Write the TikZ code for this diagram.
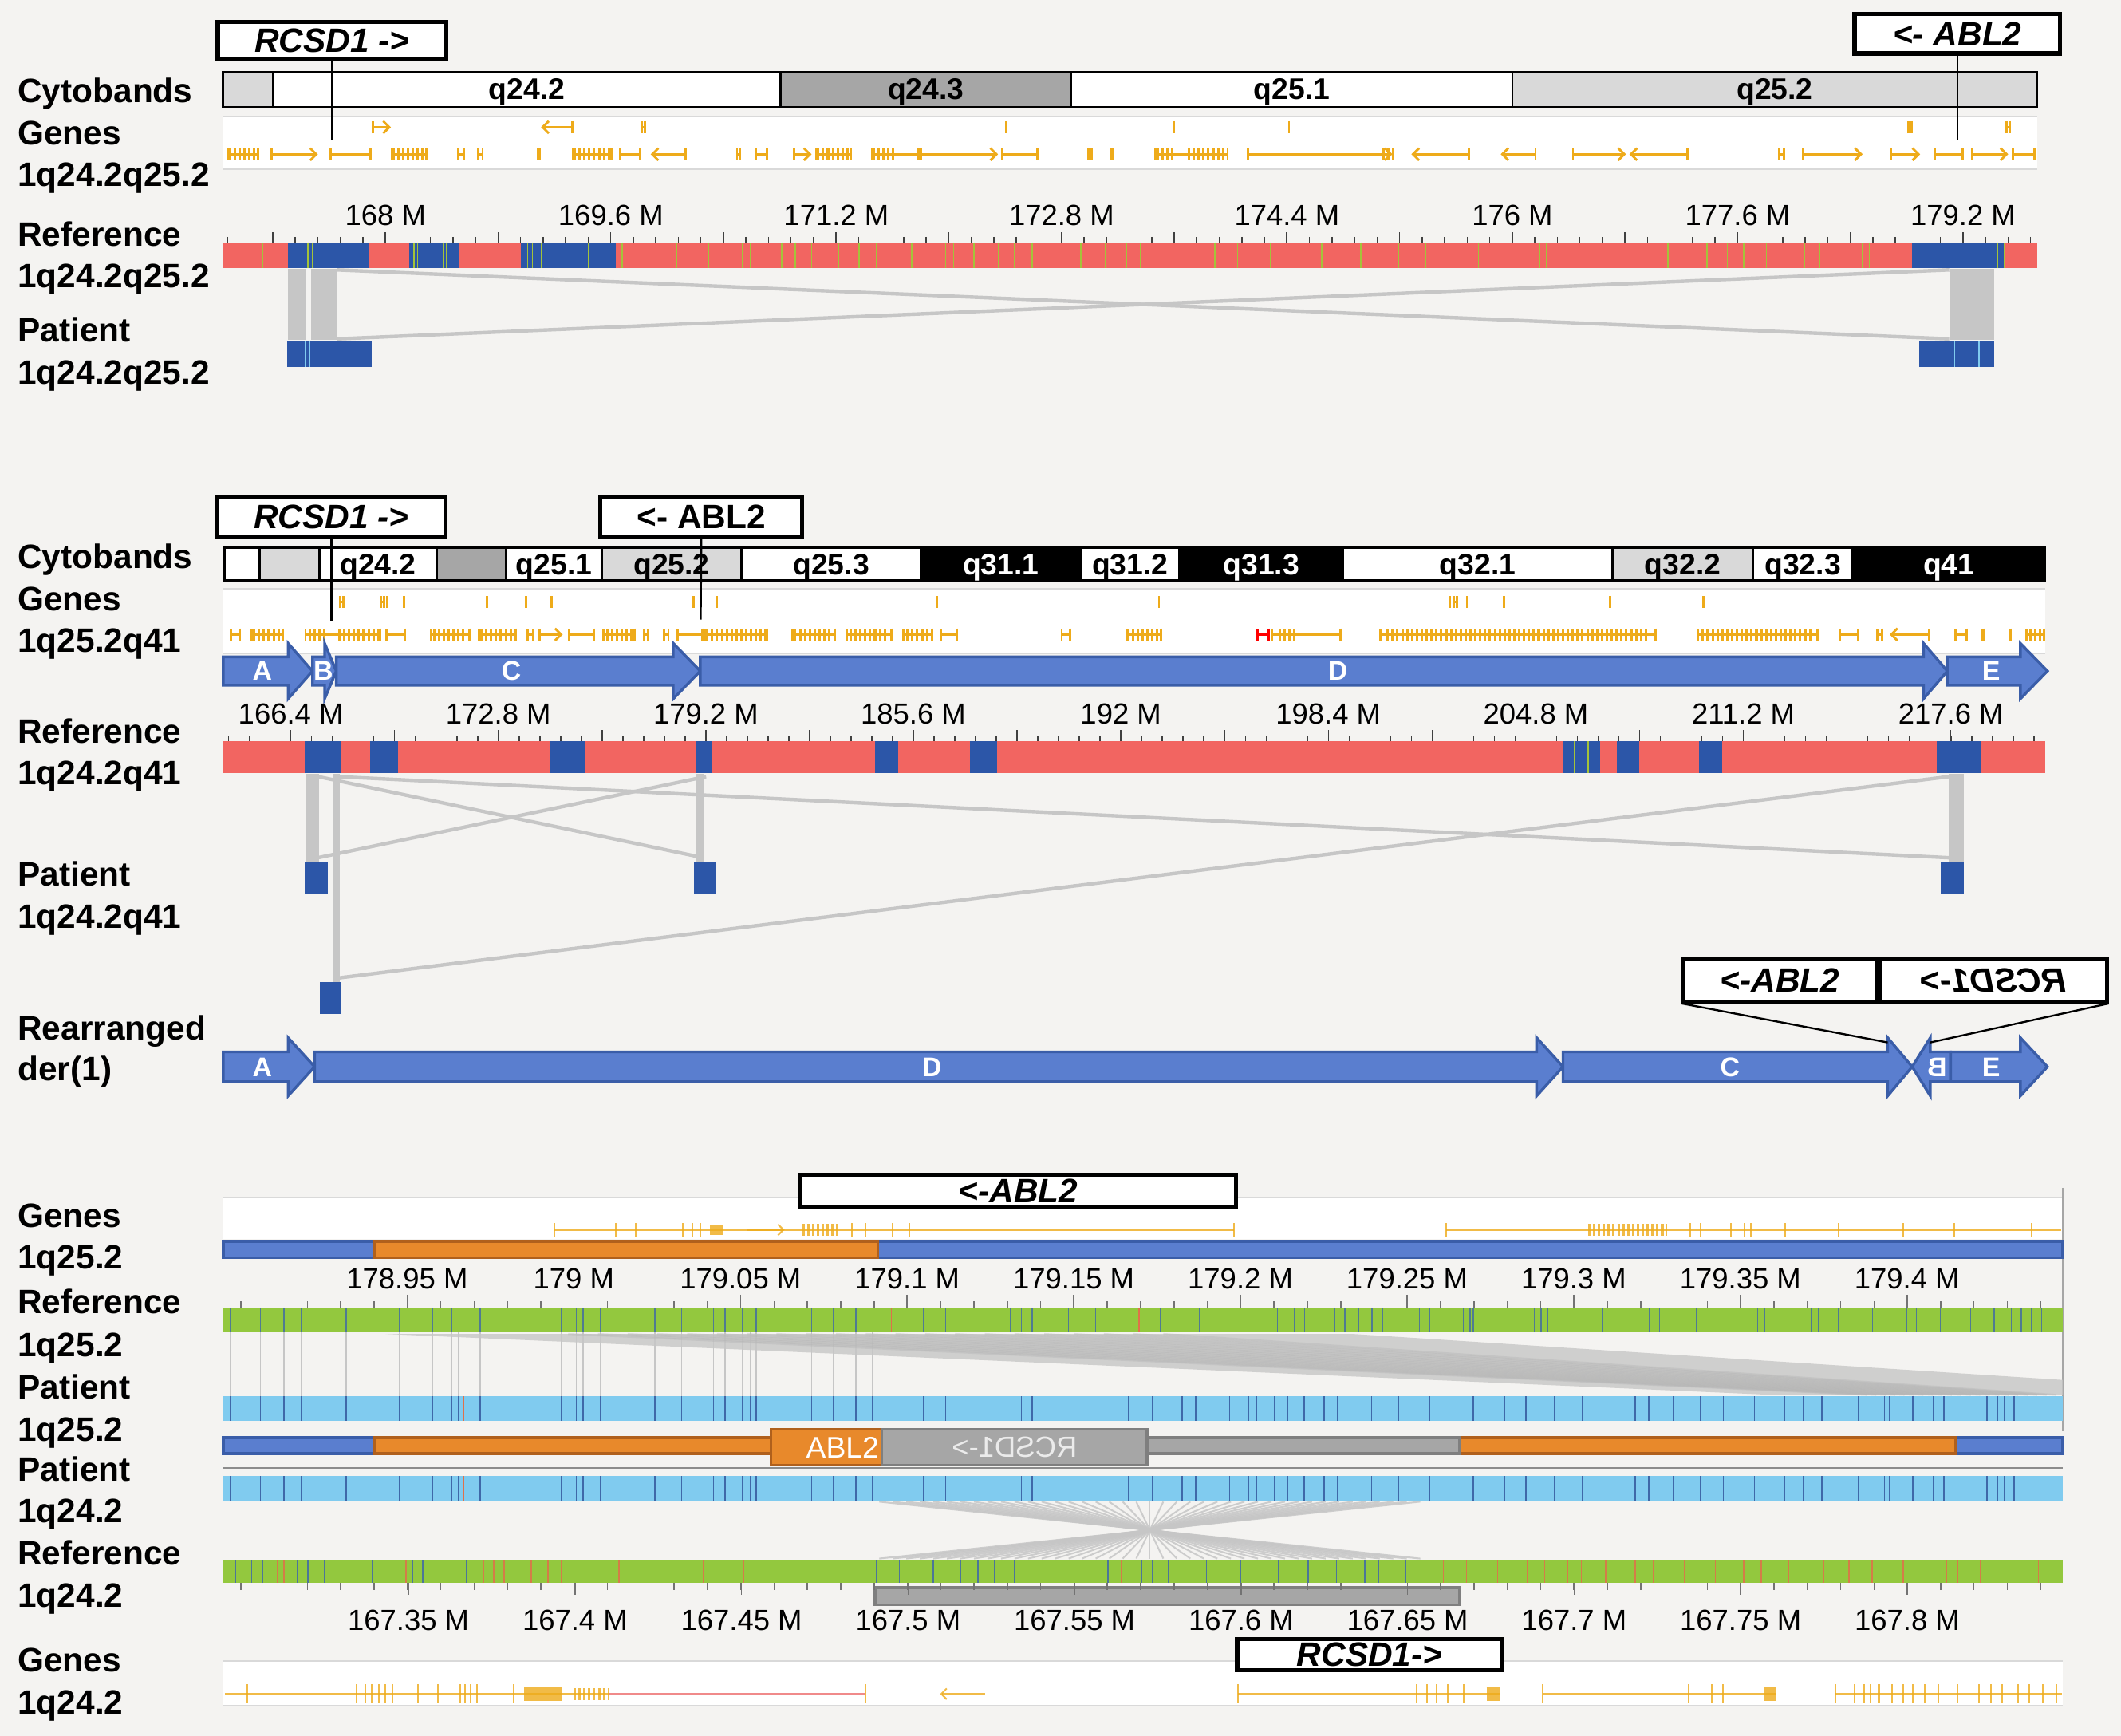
\documentclass[tikz,border=0pt]{standalone}
\usepackage{fontspec}
\usepackage{graphicx}
\setmainfont{Liberation Sans}
\usetikzlibrary{arrows.meta}

\definecolor{bgpage}{HTML}{F4F3F1}
\definecolor{cytolight}{HTML}{D9D9D9}
\definecolor{cytodark}{HTML}{A6A6A6}
\definecolor{genegold}{HTML}{EEAB1A}
\definecolor{genepink}{HTML}{F08A8A}
\definecolor{refred}{HTML}{F26561}
\definecolor{hitblue}{HTML}{2C56A8}
\definecolor{snpgreen}{HTML}{A3C33A}
\definecolor{linkgray}{HTML}{C6C6C6}
\definecolor{segfill}{HTML}{5A7ECF}
\definecolor{segedge}{HTML}{3A5DA8}
\definecolor{contigorange}{HTML}{E8892B}
\definecolor{contigedge}{HTML}{B0601C}
\definecolor{mapgreen}{HTML}{93C83E}
\definecolor{mapblue}{HTML}{80CBEF}
\definecolor{markblue}{HTML}{3F68A8}
\definecolor{markred}{HTML}{E0704A}
\definecolor{greybox}{HTML}{A6A6A6}
\definecolor{greyedge}{HTML}{7F7F7F}

\tikzset{
  rowlabel/.style={anchor=base west,inner sep=0pt,font=\bfseries\fontsize{25}{25}\selectfont},
  axislabel/.style={inner sep=0pt,font=\fontsize{21.5}{21.5}\selectfont},
  bandlabel/.style={anchor=base,inner sep=0pt,font=\bfseries\fontsize{22}{22}\selectfont},
  genebox/.style={draw=black,line width=3pt,fill=white,inner sep=0pt,font=\bfseries\itshape\fontsize{25}{25}\selectfont},
  cyto/.style={draw=black,line width=1.6pt},
  trackedge/.style={draw=black!15,line width=1.2pt},
  gene/.style={draw=genegold,line width=1.7pt},
  fgene/.style={draw=genegold,line width=1.2pt,opacity=0.8},
  hgene/.style={gene,{Bar[width=9pt]}-{Bar[width=9pt]}},
  rgene/.style={gene,{Bar[width=9pt]}-{Straight Barb[length=4.5pt,width=9pt]}},
  lgene/.style={gene,{Straight Barb[length=4.5pt,width=9pt]}-{Bar[width=9pt]}},
  exons/.style={draw=genegold,line width=9pt,dash pattern=on 1.8pt off 1.8pt},
  axistick/.style={draw=black!75,line width=0.9pt},
  link/.style={draw=linkgray,line width=2.6pt},
  segarrow/.style={fill=segfill,draw=segedge,line width=2pt},
  seglabel/.style={text=white,inner sep=0pt,font=\bfseries\fontsize{20}{20}\selectfont},
  pointer/.style={draw=black,line width=1.4pt},
  contig/.style={fill=segfill,draw=segedge,line width=2pt},
  contigabl/.style={fill=contigorange,draw=contigedge,line width=2pt},
  contiggrey/.style={fill=greybox,draw=greyedge,line width=2pt}
}

\newcommand{\patientmarks}{170,192.6,210,222.6,256,295,320,334,339,355,377.6,415,426,431,444,465,484,504,527.6,536,549,555,559,581.7,600,616,632.7,645,669,682.7,686,699,755,763,794,834,852,874,884,909,923,929,942,952,964,979,989,1014,1034,1057,1089,1112,1128,1149,1170,1209,1219,1237,1257,1274,1297,1319,1333,1347,1374,1393,1397,1414,1429,1437,1469,1477,1482,1489}

\begin{document}
\begin{tikzpicture}[x=1pt,y=-1pt]
\useasboundingbox (0,0) rectangle (1568,1283);
\fill[bgpage] (0,0) rectangle (1568,1283);

% row labels down the left side
\foreach \ty/\txt [count=\i] in {75.5/Cytobands,107/Genes,137.6/1q24.2q25.2,181.8/Reference,212.3/1q24.2q25.2,252.6/Patient,284/1q24.2q25.2,
  419.9/Cytobands,451.6/Genes,482.2/1q25.2q41,549.4/Reference,580/1q24.2q41,654.6/Patient,686.3/1q24.2q41,768.6/Rearranged,799/der(1),
  907.1/Genes,937.6/1q25.2,971/Reference,1002.5/1q25.2,1034/Patient,1065.4/1q25.2,1094.9/Patient,1125.3/1q24.2,1156.8/Reference,1188.2/1q24.2,1235.4/Genes,1266.8/1q24.2}
  \node[rowlabel] (row\i) at (13,\ty) {\txt};

%%%%%%%% top panel: 1q24.2q25.2
\foreach \xa/\xb/\col/\txt [count=\i] in {165/202/cytolight/,202/577/white/q24.2,577/792/cytodark/q24.3,792/1118/white/q25.1,1118/1506/cytolight/q25.2}{
  \draw[cyto,fill=\col] (\xa,53) rectangle (\xb,79);
  \node[bandlabel] (bandTop\i) at ({(\xa+\xb)/2},73.7) {\txt};
}
\fill[white] (165,86) rectangle (1506,125);
\draw[trackedge] (165,86) -- (1506,86) (165,125) -- (1506,125);
% genes
\draw[rgene] (275,94) -- (289,94);
\draw[lgene] (400,94) -- (424,94);
\foreach \a in {475.8,1412,1484.6} \draw[hgene] (\a-2,94) -- (\a+2,94);
\foreach \a in {744,867.8,952.9} \draw[gene] (\a,89.5) -- (\a,98.5);
\foreach \a/\b in {167.6/191.6,243.6/275,289/316,337.6/344,352.6/357.6,396.7/400,423/452.7,457.7/474,544/547.7,557.7/567.7,602.7/630,643.8/680,740/767.8,804/808,820/823,853.3/908.4,1314.5/1319.5,1429.5/1452,1487/1504.6}
  \draw[hgene] (\a,114) -- (\b,114);
\foreach \a/\b in {200/235,586/600,680/737.8,921.9/1029.4,1162/1202,1332/1377,1397/1419.5,1457/1484.6}
  \draw[rgene] (\a,114) -- (\b,114);
\foreach \a/\b in {481/507.7,1043.4/1087,1109.4/1136,1204.5/1248.5}
  \draw[lgene] (\a,114) -- (\b,114);
\foreach \a/\b in {169/190,290/315,424/452,604/629,645/662,855/868,878/906,1022/1030}
  \draw[exons] (\a,114) -- (\b,114);
% scale
\foreach \k in {0,...,80} \draw[axistick] (168.3+16.66*\k,175) -- ++(0,4);
\foreach \k in {0,...,15} \draw[axistick] (201.6+83.3*\k,171.6) -- ++(0,7.4);
\foreach \lab [count=\k from 0] in {168,169.6,171.2,172.8,174.4,176,177.6,179.2}
  \node[axislabel] (axTop\k) at (285+166.6*\k,159) {\lab\ M};
% reference and patient
\fill[refred] (165,179) rectangle (1506,198);
\foreach \xa/\xb in {212.6/272.6,302.6/339,385/455.5,1413.5/1482} \fill[hitblue] (\xa,179) rectangle (\xb,198);
\foreach \m in {194,227.6,231,306,308.6,327.6,330,390,393.6,400,435,460,485,500,524,549,555,578,588,600,620,635,648,674,699,705,720,738,750,763,799,817,833,843,867,882,898,915,939,977,1006,1034,1054,1093,1138,1143,1179,1199,1208,1233,1262,1277,1289,1306,1334,1345,1377,1382,1477,1482}
  \draw[snpgreen,line width=0.9pt] (\m,179) -- (\m,198);
\fill[linkgray] (212.6,199) rectangle (226,251);
\fill[linkgray] (230,199) rectangle (249,251);
\fill[linkgray] (1441,199) rectangle (1474,251);
\draw[link] (249,199.5) -- (1441,250.5);
\draw[link] (249,250.5) -- (1441,199.5);
\fill[hitblue] (212,252) rectangle (275,271);
\fill[hitblue] (1419,252) rectangle (1474,271);
\foreach \m in {226,229,1445,1463} \draw[mapblue,line width=1pt] (\m,252) -- (\m,271);
% gene boxes
\node[genebox,minimum width=169pt,minimum height=28pt] (rcsdTop) at (245.5,30) {RCSD1 ->};
\node[genebox,minimum width=152pt,minimum height=29pt] (ablTop) at (1447,25) {<- ABL2};
\coordinate (rcsdTopHit) at (245.5,104);
\coordinate (ablTopHit) at (1447,104);
\draw[pointer] (rcsdTop.south) -- (rcsdTopHit);
\draw[pointer] (ablTop.south) -- (ablTopHit);

%%%%%%%% middle panel: 1q24.2q41
\foreach \xa/\xb/\col/\txt/\tc [count=\i] in {166/192/white//black,192/236/cytolight//black,236/323/white/q24.2/black,323/374/cytodark//black,374/445/white/q25.1/black,445/548/cytolight/q25.2/black,548/681/white/q25.3/black,681/799/black/q31.1/white,799/872/white/q31.2/black,872/993/black/q31.3/white,993/1192/white/q32.1/black,1192/1296/cytolight/q32.2/black,1296/1369.5/white/q32.3/black,1369.5/1512/black/q41/white}{
  \draw[cyto,fill=\col] (\xa,405) rectangle (\xb,429);
  \node[bandlabel,text=\tc] (bandMid\i) at ({(\xa+\xb)/2},424.6) {\txt};
}
\fill[white] (165,435) rectangle (1512,483);
\draw[trackedge] (165,435) -- (1512,435) (165,483) -- (1512,483);
\foreach \a in {286,298.6,360,389,407.7,512.7,530,692.8,856.8,1071.9,1084.4,1112,1190.5,1259.5} \draw[gene] (\a,440.5) -- (\a,449.5);
\foreach \a in {252.6,282.6,1076} \draw[hgene] (\a-2,445) -- (\a+2,445);
\foreach \a/\b in {170/178,185/210,225/282,285/300,318/348,353/382,389/395,420/440,445/470,475/480,490/495,500/520,520/568,585/618,625/660,667/690,695/708,784/792,831.8/859.3,939.4/992,1019.4/1224.5,1254.5/1344.5,1359.5/1374.5,1387/1392,1444.6/1454.6,1464.6/1467,1484.6/1487,1497/1512}
  \draw[hgene] (\a,469) -- (\b,469);
\foreach \a/\b in {187/208,228/240,250/280,320/345,355/380,448/468,522/566,587/615,628/655,670/688,833/858,945/958,1025/1220,1258/1340,1500/1510}
  \draw[exons] (\a,469) -- (\b,469);
\draw[rgene] (398,469) -- (416,469);
\draw[lgene] (1397,469) -- (1427,469);
\draw[gene,draw=red,{Bar[width=9pt]}-{Bar[width=9pt]}] (929,469) -- (939,469);
% segments A to E
\foreach \xa/\xh/\xt in {165/213/231,231/240/248.6,248.6/497.7/517.7,517.7/1422/1439.6,1439.6/1493.6/1513.6}
  \draw[segarrow] (\xa,485.5) -- (\xh,485.5) -- (\xh,475.5) -- (\xt,496) -- (\xh,516.5) -- (\xh,506.5) -- (\xa,506.5) -- cycle;
\node[seglabel] (segA) at (194,496) {A};
\node[seglabel] (segB) at (239,496) {B};
\node[seglabel] (segC) at (378,496) {C};
\node[seglabel] (segD) at (989,496) {D};
\node[seglabel] (segE) at (1472,496) {E};
% scale
\foreach \k in {0,...,87} \draw[axistick] (169+15.34*\k,544) -- ++(0,4);
\foreach \k in {0,...,16} \draw[axistick] (215+76.7*\k,539.6) -- ++(0,8.4);
\foreach \lab [count=\k from 0] in {166.4,172.8,179.2,185.6,192,198.4,204.8,211.2,217.6}
  \node[axislabel] (axMid\k) at (215+153.4*\k,527.6) {\lab\ M};
% reference and patient
\fill[refred] (165,548) rectangle (1512,571.4);
\foreach \xa/\xb in {225/252.6,273.6/294,407/432,514/526.6,647/663.8,717/737,1155/1183,1195.5/1212,1256/1273,1432/1464.6}
  \fill[hitblue] (\xa,548) rectangle (\xb,571.4);
\foreach \m in {1164,1174} \draw[snpgreen,line width=1pt] (\m,548) -- (\m,571.4);
\fill[linkgray] (226,572) rectangle (236,637);
\fill[linkgray] (246,572) rectangle (251,726);
\fill[linkgray] (515,572) rectangle (520,637);
\fill[linkgray] (1440.6,572) rectangle (1452,637);
\draw[link] (235,574) -- (520,634);
\draw[link] (235,634) -- (522,574);
\draw[link] (249,574) -- (1441,634);
\draw[link] (249,723) -- (1441,574);
\foreach \xa/\xb in {225/242.6,513/529.5,1434.6/1452} \fill[hitblue] (\xa,637) rectangle (\xb,660.5);
\fill[hitblue] (236.6,726) rectangle (252.6,749.3);
% rearranged der(1)
\foreach \xa/\xh/\xt in {165/213/232.6,232.6/1136/1155.5,1155.5/1395.5/1413.6,1442/1427/1413.6,1442/1493.6/1513.6}
  \draw[segarrow] (\xa,777.5) -- (\xh,777.5) -- (\xh,767) -- (\xt,788.5) -- (\xh,810) -- (\xh,799.5) -- (\xa,799.5) -- cycle;
\node[seglabel] (derA) at (194,789) {A};
\node[seglabel] (derD) at (689,789) {D};
\node[seglabel] (derC) at (1279,789) {C};
\node[seglabel] (derB) at (1432,789) {\reflectbox{B}};
\node[seglabel] (derE) at (1472,789) {E};
% gene boxes
\node[genebox,minimum width=169pt,minimum height=30pt] (rcsdMid) at (245,382) {RCSD1 ->};
\node[genebox,minimum width=149pt,minimum height=30pt,font=\bfseries\fontsize{25}{25}\selectfont] (ablMid) at (518.5,382) {<- ABL2};
\coordinate (rcsdMidHit) at (245,459);
\coordinate (ablMidHit) at (518,458);
\draw[pointer] (rcsdMid.south) -- (rcsdMidHit);
\draw[pointer] (ablMid.south) -- (ablMidHit);
\node[genebox,minimum width=143pt,minimum height=31pt] (ablDer) at (1316,724.7) {<-ABL2};
\node[genebox,minimum width=168pt,minimum height=31pt] (rcsdDer) at (1473.6,724.7) {\reflectbox{RCSD1->}};
\coordinate (ablDerHit) at (1395.5,770.5);
\coordinate (rcsdDerHit) at (1427,770.5);
\draw[pointer] (ablDer.south west) -- (ablDerHit);
\draw[pointer] (rcsdDer.south east) -- (rcsdDerHit);

%%%%%%%% bottom panel: breakpoints
\fill[white] (165,885) rectangle (1525,916);
\draw[trackedge] (165,885) -- (1525,885);
\draw[black!35,line width=0.8pt] (1525,878) -- (1525,1058);
\draw[fgene] (410,909) -- (912,909) (1069,909) -- (1524,909);
\foreach \a in {410,455,470,505,512,518,630,640,660,672,912,1069,1249.5,1257,1279.5,1289.5,1294.5,1319.5,1359.5,1407,1444.5,1502}
  \draw[fgene] (\a,904) -- (\a,914);
\draw[fgene,line width=8pt] (525,909) -- (535,909);
\draw[exons,opacity=0.8] (593,909) -- (620,909);
\draw[exons,opacity=0.8] (1174,909) -- (1232,909);
\draw[fgene,-{Straight Barb[length=4pt,width=8pt]}] (552,909) -- (580,909);
\draw[contig] (165,917.5) rectangle (277,929.5);
\draw[contig] (649,917.5) rectangle (1525,929.5);
\draw[contigabl] (277,917.5) rectangle (649,929.5);
% upper scale
\foreach \k in {0,...,54} \draw[axistick,black!55] (178+24.64*\k,962) -- ++(0,5);
\foreach \k in {0,...,9} \draw[axistick,black!55] (301+123.2*\k,957) -- ++(0,10);
\foreach \lab [count=\k from 0] in {178.95,179,179.05,179.1,179.15,179.2,179.25,179.3,179.35,179.4}
  \node[axislabel] (axUp\k) at (301+123.2*\k,945) {\lab\ M};
% links reference 1q25.2 to patient 1q25.2
\foreach \m in {170,192.6,210,222.6,256,295,320,334,339,355,377.6,415,426,431,444,465,484,504,527.6,536,549,555,559,581.7,600,616,632.7,645}
  \draw[linkgray,line width=0.9pt] (\m,985) -- (\m,1032);
\fill[linkgray,opacity=0.8] (285,986) -- (1000,986) -- (1525,1020) -- (1525,1031) -- (1310,1031) -- cycle;
\foreach \k in {0,...,20} \draw[black!30,line width=1.4pt,opacity=0.35] (420+22*\k,986) -- (1380+7*\k,1031);
% reference 1q25.2
\fill[mapgreen] (165,967) rectangle (1525,985);
\foreach \m in {170,192.6,210,222.6,256,295,320,334,355,377.6,415,426,431,444,465,484,504,527.6,536,549,559,581.7,600,616,632.7,669,682.7,686,699,747,755,763,790,810,858,886.8,916.8,934.3,944.3,956.8,964.3,986.8,994.3,1004.3,1014.3,1021.8,1049.3,1056.8,1081.8,1086.8,1089.3,1134.3,1139.3,1144.3,1164.3,1184.3,1219.3,1226.8,1254.3,1299.3,1304.3,1339.3,1344.3,1359.3,1374.3,1384.3,1394.3,1409.3,1416.8,1434.3,1456.8,1474.3,1479.3,1486.8,1494.3,1501.8,1509.3}
  \draw[markblue,line width=0.9pt,opacity=0.8] (\m,967) -- (\m,985);
\foreach \m in {659,842} \draw[markred,line width=0.9pt] (\m,967) -- (\m,985);
% patient 1q25.2
\fill[mapblue] (165,1032) rectangle (1525,1050);
\foreach \m in \patientmarks \draw[markblue,line width=0.9pt] (\m,1032) -- (\m,1050);
\draw[markred,line width=0.7pt] (343,1032) -- (343,1050);
% patient contigs
\draw[contig] (165,1062.5) rectangle (277,1074.5);
\draw[contig] (1446,1062.5) rectangle (1525,1074.5);
\draw[contigabl] (277,1062.5) rectangle (570,1074.5);
\draw[contigabl] (1079,1062.5) rectangle (1446,1074.5);
\draw[contiggrey] (848,1062.5) rectangle (1079,1074.5);
\draw[contigabl] (570,1056.5) rectangle (652,1083);
\draw[contiggrey] (652,1056.5) rectangle (848,1083);
\node[anchor=east,inner sep=0pt,text=white,font=\fontsize{22}{22}\selectfont] (ablJoin) at (650,1069.8) {ABL2};
\node[inner sep=0pt,text=white!92!black,font=\fontsize{21.5}{21.5}\selectfont] (rcsdJoin) at (750,1069.8) {\reflectbox{RCSD1->}};
\draw[black!45,line width=1.2pt] (165,1085) -- (1525,1085);
% patient 1q24.2
\fill[mapblue] (165,1091) rectangle (1525,1109);
\foreach \m in \patientmarks \draw[markblue,line width=0.9pt] (\m,1091) -- (\m,1109);
\draw[markred,line width=0.7pt] (343,1091) -- (343,1109);
% inversion links
\foreach \a in {650,660,...,1050} \draw[linkgray,line width=1.2pt,opacity=0.85] (\a,1110) -- (1700-\a,1152);
% reference 1q24.2
\fill[mapgreen] (165,1153) rectangle (1525,1170);
\foreach \m in {174,186,194,220,227.6,240,275,305,312.6,345,647.7,665,690,710,723,735,750,765,819,844,851.8,864,892,917,945,967,988,1009,1019,1039}
  \draw[markblue,line width=0.9pt,opacity=0.85] (\m,1153) -- (\m,1170);
\foreach \m in {205,210,300,357.6,365,372.6,392.6,405,415,457.7,520,550,829,1067,1084,1107,1129,1142,1159,1169,1179,1187,1209,1222,1245,1268,1289,1302,1322,1348,1367,1384,1407,1439,1447,1464,1507}
  \draw[markred,line width=0.9pt,opacity=0.85] (\m,1153) -- (\m,1170);
\draw[contiggrey] (647,1173.5) rectangle (1079,1186.3);
% lower scale
\foreach \k in {0,...,54} \draw[axistick,black!55] (178+24.64*\k,1170) -- ++(0,5);
\foreach \k in {0,...,9} \draw[axistick,black!55] (302+123.1*\k,1170) -- ++(0,9);
\foreach \lab [count=\k from 0] in {167.35,167.4,167.45,167.5,167.55,167.6,167.65,167.7,167.75,167.8}
  \node[axislabel] (axLow\k) at (302+123.1*\k,1197.7) {\lab\ M};
% genes 1q24.2
\fill[white] (165,1228) rectangle (1525,1261);
\draw[trackedge] (165,1228) -- (1525,1228) (165,1261) -- (1525,1261);
\draw[fgene] (166.5,1252) -- (450,1252) (915.4,1252) -- (1109.4,1252) (1140.4,1252) -- (1313.5,1252) (1357,1252) -- (1524.6,1252);
\draw[genepink,line width=1.6pt] (450,1252) -- (640,1252);
\foreach \a in {182.6,263.6,270,275,280,285,290,309,324,340,344,348,352.6,380,640,915.4,1047,1055,1062,1070,1082,1140.4,1248.5,1265.5,1273.5,1357,1371,1378,1383,1389,1399,1407,1414,1423,1433,1447,1463,1472,1480,1492,1500,1510,1520}
  \draw[fgene] (\a,1245) -- (\a,1259);
\draw[fgene,line width=10pt] (387.6,1252) -- (416,1252) (1099,1252) -- (1109,1252) (1304.5,1252) -- (1313.5,1252);
\draw[exons,opacity=0.8] (424,1252) -- (450,1252);
\draw[fgene,{Straight Barb[length=4pt,width=8pt]}-] (695,1252) -- (728,1252);
% gene boxes
\node[genebox,minimum width=322pt,minimum height=23.5pt] (ablLow) at (752.7,880) {<-ABL2};
\node[genebox,minimum width=196pt,minimum height=23.5pt] (rcsdLow) at (1012.6,1223) {RCSD1->};
\end{tikzpicture}
\end{document}
